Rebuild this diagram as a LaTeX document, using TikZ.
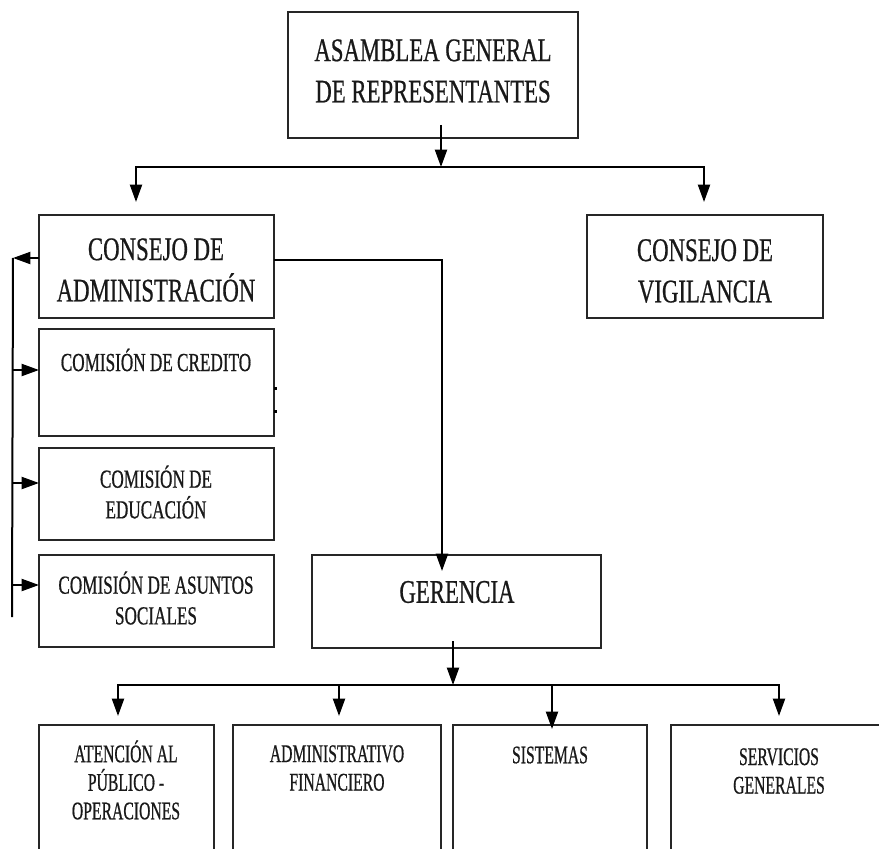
\documentclass[tikz,border=0pt]{standalone}
\usepackage{fontspec}
\setmainfont[FakeStretch=0.69,FakeBold=0.6]{Liberation Serif}
\newfontfamily\midfont[FakeStretch=0.66,FakeBold=0.6]{Liberation Serif}
\newfontfamily\smlfont[FakeStretch=0.62,FakeBold=0.6]{Liberation Serif}
\usetikzlibrary{arrows.meta,fit}
\begin{document}
\begin{tikzpicture}[x=0.75pt,y=-0.75pt,
  box/.style={draw=black!85, line width=1.2pt, inner sep=0pt},
  arr/.style={draw=black, line width=1.5pt, -{Triangle[length=13pt,width=9pt]}},
  ln/.style={draw=black, line width=1.5pt},
  bigt/.style={align=center, inner sep=0pt, text=black!90, font=\fontsize{24.75pt}{31pt}\selectfont},
  midt/.style={align=center, inner sep=0pt, text=black!90, font=\midfont\fontsize{19.5pt}{23pt}\selectfont},
  smlt/.style={align=center, inner sep=0pt, text=black!90, font=\smlfont\fontsize{19pt}{21.4pt}\selectfont}
]
\clip (0,0) rectangle (879,849);
\fill[white] (0,0) rectangle (879,849);

% boxes
\node[box, fit={(288,12) (578,138)}] (asamblea) {};
\node[box, fit={(39,215) (274,318)}] (admin) {};
\node[box, fit={(587,215) (823,318)}] (vigil) {};
\node[box, fit={(39,329) (274,436)}] (credito) {};
\node[box, fit={(39,448) (274,540)}] (educa) {};
\node[box, fit={(39,555) (274,647)}] (asuntos) {};
\node[box, fit={(312,555) (601,648)}] (gerencia) {};
\node[box, fit={(39,725) (214,870)}] (atencion) {};
\node[box, fit={(233,725) (441,870)}] (adminfin) {};
\node[box, fit={(453,725) (647,870)}] (sistemas) {};
\node[box, fit={(671,725) (890,870)}] (servicios) {};

% texts
\node[bigt] (asambleaT) at (433,71) {ASAMBLEA GENERAL\\DE REPRESENTANTES};
\node[bigt] (adminT) at (156,270) {CONSEJO DE\\ADMINISTRACIÓN};
\node[bigt] (vigilT) at (705,271) {CONSEJO DE\\VIGILANCIA};
\node[bigt] (gerenciaT) at (457,592) {GERENCIA};
\node[midt] (creditoT) at (156,360) {COMISIÓN DE CREDITO};
\node[midt] (educaT) at (156,492) {COMISIÓN DE\\EDUCACIÓN};
\node[midt] (asuntosT) at (156,598) {COMISIÓN DE ASUNTOS\\SOCIALES};
\node[smlt] (atencionT) at (126,780) {ATENCIÓN AL\\PÚBLICO -\\OPERACIONES};
\node[smlt] (adminfinT) at (337,768) {ADMINISTRATIVO\\FINANCIERO};
\node[smlt] (sistemasT) at (550,755) {SISTEMAS};
\node[smlt] (serviciosT) at (779,771) {SERVICIOS\\GENERALES};

% top connectors
\coordinate (aS) at (441,125);
\coordinate (bus1) at (441,167);
\coordinate (tA) at (136,202);
\coordinate (tV) at (704,202);
\draw[arr] (aS) -- (bus1);
\draw[arr] (bus1) -| (tA);
\draw[arr] (bus1) -| (tV);

% admin to gerencia
\coordinate (aE) at (274,260);
\coordinate (gT) at (442,571);
\draw[arr] (aE) -| (gT);

% left side bracket
\coordinate (aW) at (39,258);
\coordinate (lTop) at (13,258);
\coordinate (lBot) at (12,617);
\draw[arr] (aW) -- (lTop);
\draw[ln] (lTop) -- (lBot);
\coordinate (l1) at (12,370); \coordinate (c1) at (39,370);
\coordinate (l2) at (12,483); \coordinate (c2) at (39,483);
\coordinate (l3) at (12,585); \coordinate (c3) at (39,585);
\draw[arr] (l1) -- (c1);
\draw[arr] (l2) -- (c2);
\draw[arr] (l3) -- (c3);

% small marks at right of credito box
\fill (274,386.5) rectangle (276.5,389.5);
\fill (274,409.5) rectangle (276.5,412.5);

% gerencia to departments
\coordinate (gS) at (453,641);
\coordinate (bus2) at (453,685);
\coordinate (d1) at (118,716);
\coordinate (d2) at (339,716);
\coordinate (d3) at (552,729);
\coordinate (d4) at (779,716);
\draw[arr] (gS) -- (bus2);
\draw[arr] (bus2) -| (d1);
\draw[arr] (bus2) -| (d2);
\draw[arr] (bus2) -| (d3);
\draw[arr] (bus2) -| (d4);
\end{tikzpicture}
\end{document}
